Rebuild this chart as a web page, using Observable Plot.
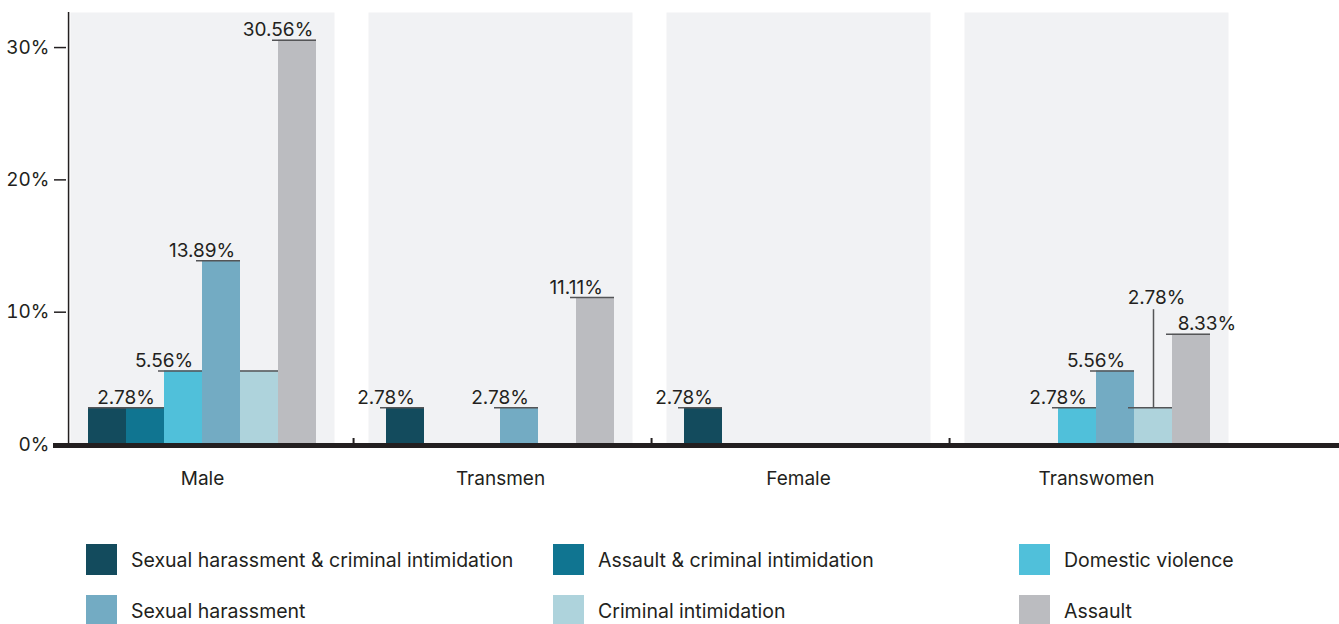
<!DOCTYPE html>
<html><head><meta charset="utf-8">
<script src="https://cdn.jsdelivr.net/npm/d3@7"></script>
<script src="https://cdn.jsdelivr.net/npm/@observablehq/plot@0.6"></script>
<style>
body{margin:0;background:#fff;font-family:Inter,"Noto Sans",sans-serif;color:#231f20;}
#legend{display:grid;grid-template-columns:467px 466px 320px;row-gap:20px;padding:44px 0 0 86px;}
.item{display:flex;align-items:center;height:31px;font-size:19.5px;white-space:nowrap;}
.sw{width:31px;height:31px;margin-right:14px;flex:none;}
</style></head><body><div id="chart"></div><div id="legend"></div>
<script>
const groups = ["Male", "Transmen", "Female", "Transwomen"];
const series = ["Sexual harassment & criminal intimidation", "Assault & criminal intimidation", "Domestic violence", "Sexual harassment", "Criminal intimidation", "Assault"];
const colors = ["#134b5d", "#107591", "#50c0da", "#73abc3", "#aed3dc", "#bbbcc0"];
// values (%) per series, in group order
const sexHarassCrimIntim = [2.78, 2.78, 2.78, 0];
const assaultCrimIntim = [2.78, 0, 0, 0];
const domesticViolence = [5.56, 0, 0, 2.78];
const sexHarassment = [13.89, 2.78, 0, 5.56];
const crimIntimidation = [5.56, 0, 0, 2.78];
const assault = [30.56, 11.11, 0, 8.33];
const yTicks = [0, 10, 20, 30];
// bars whose value is not written
const hiddenLabels = [["Male", "Sexual harassment & criminal intimidation"], ["Male", "Criminal intimidation"]];
const leaderLabel = ["Transwomen", "Criminal intimidation"];
const shiftedLabel = ["Transwomen", "Assault"];

const valuesBySeries = [sexHarassCrimIntim, assaultCrimIntim, domesticViolence, sexHarassment, crimIntimidation, assault];
const data = [];
series.forEach((s, i) => groups.forEach((g, j) => {
  const v = valuesBySeries[i][j];
  if (v > 0) data.push({group: g, series: s, value: v});
}));

const W = 1339, H = 500, mL = 70, mR = 111, mT = 12, mB = 56;
const pIn = 34 / 298;
const bandW = (W - mL - mR) / (groups.length - pIn) * (1 - pIn);
const bw = bandW / (series.length + 0.8);
const ink = "#231f20", lineCol = "#545557";
const is = (d, p) => d.group === p[0] && d.series === p[1];
const isHidden = d => hiddenLabels.some(p => is(d, p));
const fmt = d => d.value.toFixed(2) + "%";
const plain = data.filter(d => !isHidden(d) && !is(d, leaderLabel) && !is(d, shiftedLabel));
const leader = data.filter(d => is(d, leaderLabel));
const shifted = data.filter(d => is(d, shiftedLabel));
const pos = {fx: "group", x: "series", y: "value"};

const chart = Plot.plot({
  width: W, height: H, marginLeft: mL, marginRight: mR, marginTop: mT, marginBottom: mB,
  style: {fontFamily: "Inter, 'Noto Sans', sans-serif", fontSize: "19px", color: ink, background: "white"},
  fx: {domain: groups, paddingInner: pIn, paddingOuter: 0, label: null},
  x: {domain: series, paddingInner: 0, paddingOuter: 0.4, axis: null},
  y: {domain: [0, 32.65], label: null},
  color: {domain: series, range: colors},
  marks: [
    Plot.frame({fill: "#f1f2f4", stroke: null}),
    Plot.barY(data, {...pos, fill: "series"}),
    Plot.tickY(data.filter(isHidden), {...pos, stroke: lineCol, strokeWidth: 1.5}),
    Plot.tickY(data.filter(d => !isHidden(d)), {...pos, stroke: lineCol, strokeWidth: 1.5, insetLeft: -6}),
    Plot.text(plain, {...pos, text: fmt, lineAnchor: "bottom", dy: -4, dx: -bw / 2, fill: ink}),
    Plot.text(shifted, {...pos, text: fmt, lineAnchor: "bottom", dy: -4, dx: bw / 2 - 4, fill: ink}),
    Plot.ruleX(leader, {fx: "group", x: "series", y1: "value", y2: "value", insetBottom: 98, stroke: lineCol, strokeWidth: 1.5}),
    Plot.text(leader, {...pos, text: fmt, lineAnchor: "bottom", dy: -104, dx: 3, fill: ink}),
    // y axis line
    Plot.ruleX([{g: groups[0], s: series[0]}], {fx: "g", x: "s", dx: -0.9 * bw - 4, stroke: ink, strokeWidth: 1.5}),
    Plot.axisY({ticks: yTicks, tickFormat: d => d + "%", tickSize: 12, tickPadding: 5, dx: -4, stroke: ink, fill: ink, strokeWidth: 1.5, label: null}),
    // baseline
    Plot.ruleY(groups.slice(0, -1).map(g => ({g, v: 0})), {fx: "g", y: "v", dy: 1, insetLeft: -17, insetRight: -17, stroke: ink, strokeWidth: 5}),
    Plot.ruleY(groups.slice(-1).map(g => ({g, v: 0})), {fx: "g", y: "v", dy: 1, insetLeft: -17, insetRight: -mR, stroke: ink, strokeWidth: 5}),
    // ticks between groups
    Plot.ruleX(groups.slice(1).map(g => ({g, s: series[0], v: 0})), {fx: "g", x: "s", y1: "v", y2: "v", insetBottom: 6, dx: -0.9 * bw - 17, stroke: ink, strokeWidth: 2}),
    Plot.axisFx({anchor: "bottom", tickSize: 0, tickPadding: 27, label: null, fill: ink})
  ]
});
document.getElementById("chart").appendChild(chart);

const legend = document.getElementById("legend");
series.forEach((s, i) => {
  const it = document.createElement("div");
  it.className = "item";
  const sw = document.createElement("span");
  sw.className = "sw";
  sw.style.background = colors[i];
  const t = document.createElement("span");
  t.textContent = s;
  it.appendChild(sw); it.appendChild(t);
  legend.appendChild(it);
});
</script></body></html>
